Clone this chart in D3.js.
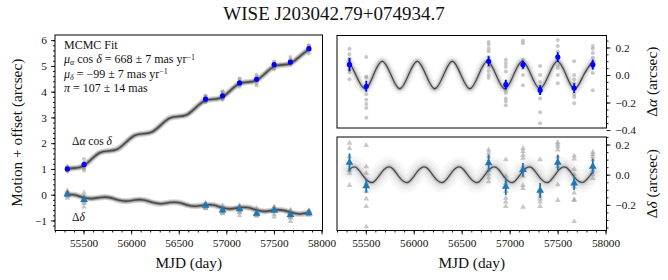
<!DOCTYPE html>
<html><head><meta charset="utf-8">
<script src="https://cdn.jsdelivr.net/npm/d3@7"></script>
<style>
body{margin:0;background:#fff}
svg{display:block}
text{font-family:"Liberation Serif","DejaVu Serif",serif;fill:#111}
</style>
</head><body><svg id="c" width="668" height="280"></svg>
<script>
// ---------------- DATA ----------------
const titleText = "WISE J203042.79+074934.7";
const epochs = [55330, 55505, 56781, 56960, 57139, 57318, 57502, 57673, 57867];

// left panel: motion + offset (arcsec)
const raTotal = [1.00, 1.17, 3.71, 3.84, 4.34, 4.48, 5.05, 5.15, 5.67];
const decTotal = [0.02, -0.20, -0.42, -0.60, -0.56, -0.73, -0.61, -0.78, -0.71];

// right panels: parallax residuals (arcsec)
const raRes = [0.075, -0.082, 0.10, -0.07, 0.075, -0.11, 0.13, -0.095, 0.075];
const raResErr = [0.048, 0.040, 0.037, 0.035, 0.030, 0.035, 0.036, 0.035, 0.035];
const decRes = [0.08, -0.075, 0.077, -0.079, 0.032, -0.105, 0.081, -0.057, 0.055];
const decResErr = [0.060, 0.045, 0.055, 0.055, 0.045, 0.050, 0.050, 0.045, 0.050];

// individual exposures (grey)
const raObs = [
  [0.19, 0.15, 0.12, 0.10, 0.07, 0.04, 0.02, -0.03],
  [0.13, -0.01, -0.02, -0.08, -0.14, -0.18, -0.21, -0.24, -0.31],
  [0.24, 0.22, 0.19, 0.17, 0.13, 0.06, 0.03, 0.0, -0.02],
  [0.11, 0.085, 0.06, 0.025, -0.05, -0.11, -0.13, -0.17, -0.19, -0.22],
  [0.25, 0.23, 0.11, 0.085, 0.05, 0.0, -0.075],
  [0.065, 0.0, -0.05, -0.08, -0.13, -0.17, -0.27, -0.35],
  [0.255, 0.21, 0.17, 0.14, 0.11, 0.07, 0.05, 0.0, -0.06],
  [0.10, 0.0, -0.03, -0.06, -0.10, -0.14, -0.16, -0.205],
  [0.21, 0.19, 0.16, 0.125, 0.09, 0.05, 0.015, -0.11]
];
const decObs = [
  [0.21, 0.175, 0.12, 0.08, 0.03, 0.01, -0.07],
  [0.195, 0.053, 0.01, -0.055, -0.11, -0.16, -0.21, -0.345],
  [0.165, 0.145, 0.12, 0.03, 0.005, -0.02, -0.045],
  [0.10, -0.01, -0.055, -0.11, -0.155, -0.18, -0.21],
  [0.175, 0.155, 0.13, 0.11, 0.055, -0.01, -0.07, -0.09, -0.215],
  [0.10, -0.12, -0.14, -0.16, -0.18, -0.21],
  [0.215, 0.20, 0.185, 0.165, 0.12, 0.055, -0.065, -0.17],
  [0.125, 0.105, 0.035, 0.0, -0.08, -0.12, -0.165, -0.17, -0.31],
  [0.15, 0.135, 0.12, 0.10, 0.055, 0.03, 0.0, -0.025]
];

// fitted model curve, read at quarter-year knots
const modelT = [55330, 55397, 55489, 55580, 55671, 55763, 55854, 55945, 56037, 56128,
  56219, 56311, 56402, 56493, 56585, 56676, 56767, 56859, 56950, 57041,
  57133, 57224, 57315, 57407, 57498, 57589, 57680, 57772, 57867];
const modelRa = [0.092, 0, -0.1, 0, 0.1, 0, -0.1, 0, 0.1, 0,
  -0.1, 0, 0.1, 0, -0.1, 0, 0.1, 0, -0.1, 0,
  0.1, 0, -0.1, 0, 0.1, 0, -0.1, 0, 0.1];
const modelDec = [0.035, 0.049, -0.02, -0.049, 0.02, 0.049, -0.02, -0.049, 0.02, 0.049,
  -0.02, -0.049, 0.02, 0.049, -0.02, -0.049, 0.02, 0.049, -0.02, -0.049,
  0.02, 0.049, -0.02, -0.049, 0.02, 0.049, -0.02, -0.049, 0.02];
const modelRaTotal = [1.0, 1.031, 1.098, 1.365, 1.632, 1.699, 1.766, 2.033, 2.300, 2.367,
  2.434, 2.701, 2.968, 3.035, 3.102, 3.369, 3.636, 3.703, 3.770, 4.037,
  4.304, 4.371, 4.438, 4.705, 4.972, 5.039, 5.106, 5.373, 5.645];
const modelDecTotal = [0.0, -0.004, -0.098, -0.152, -0.108, -0.103, -0.197, -0.251, -0.207, -0.203,
  -0.296, -0.350, -0.306, -0.302, -0.396, -0.449, -0.405, -0.401, -0.495, -0.549,
  -0.504, -0.500, -0.594, -0.648, -0.604, -0.600, -0.693, -0.747, -0.703];

const xTicks = [55500, 56000, 56500, 57000, 57500, 58000];
const xMinor = d3.range(55200, 58001, 100);
const leftYTicks = [-1, 0, 1, 2, 3, 4, 5, 6];
const leftYMinor = d3.range(-1.2, 6.2, 0.2);
const raTicks = [-0.4, -0.2, 0.0, 0.2];
const raMinor = d3.range(-0.35, 0.29, 0.05);
const decTicks = [-0.2, 0.0, 0.2];
const decMinor = d3.range(-0.35, 0.26, 0.05);

// ---------------- DRAW ----------------
const svg = d3.select("#c");
const BLUE = "#0000ff", TAB = "#1f77b4";

const L = {x0: 55, x1: 322.5, y0: 35, y1: 230.5};
const RT = {x0: 337, x1: 606.5, y0: 35.5, y1: 128};
const RB = {x0: 337, x1: 606.5, y0: 137, y1: 230.5};

const xL = d3.scaleLinear().domain([55200, 58010]).range([L.x0, L.x1]);
const yL = d3.scaleLinear().domain([-1.39, 6.2]).range([L.y1, L.y0]);
const xR = d3.scaleLinear().domain([55200, 58010]).range([RT.x0, RT.x1]);
const yRa = d3.scaleLinear().domain([-0.385, 0.287]).range([RT.y1, RT.y0]);
const yDe = d3.scaleLinear().domain([-0.37, 0.25]).range([RB.y1, RB.y0]);

const defs = svg.append("defs");
function clip(id, p) {
  defs.append("clipPath").attr("id", id).append("rect")
    .attr("x", p.x0).attr("y", p.y0).attr("width", p.x1 - p.x0).attr("height", p.y1 - p.y0);
  return svg.append("g").attr("clip-path", `url(#${id})`);
}
const gL = clip("cl", L), gRT = clip("crt", RT), gRB = clip("crb", RB);

const tri = d3.symbol().type(d3.symbolTriangle);

function greyPoints(g, x, y, obsArr, shift, shape) {
  obsArr.forEach((vals, i) => {
    vals.forEach(v => {
      const val = shift ? shift(i, v) : v;
      if (shape === "tri") {
        g.append("path").attr("d", tri.size(14)())
          .attr("transform", `translate(${x(epochs[i])},${y(val)})`)
          .attr("fill", "#9a9a9a").attr("fill-opacity", 0.55);
      } else {
        g.append("circle").attr("cx", x(epochs[i])).attr("cy", y(val)).attr("r", 2)
          .attr("fill", "#9a9a9a").attr("fill-opacity", 0.55);
      }
    });
  });
}

function model(g, x, y, vals, layers) {
  const line = d3.line().x((d, i) => x(modelT[i])).y(d => y(d)).curve(d3.curveNatural);
  layers.forEach(l => {
    g.append("path").attr("d", line(vals)).attr("fill", "none")
      .attr("stroke", l[0]).attr("stroke-width", l[1]).attr("stroke-opacity", l[2])
      .attr("stroke-linecap", "round").attr("stroke-linejoin", "round");
  });
}

function bluePoints(g, x, y, vals, errs, color, shape) {
  vals.forEach((v, i) => {
    const cx = x(epochs[i]);
    g.append("line").attr("x1", cx).attr("x2", cx)
      .attr("y1", y(v - errs[i])).attr("y2", y(v + errs[i]))
      .attr("stroke", color).attr("stroke-width", 1.8);
    if (shape === "tri") {
      g.append("path").attr("d", tri.size(26)()).attr("transform", `translate(${cx},${y(v)})`).attr("fill", color);
    } else {
      g.append("circle").attr("cx", cx).attr("cy", y(v)).attr("r", 2.6).attr("fill", color);
    }
  });
}

// left panel
greyPoints(gL, xL, yL, raObs, (i, v) => raTotal[i] + (v - raRes[i]), "circ");
greyPoints(gL, xL, yL, decObs, (i, v) => decTotal[i] + (v - decRes[i]), "tri");
const leftLayers = [["#888", 6, 0.35], ["#777", 3.6, 0.6], ["#444", 1.6, 0.9]];
model(gL, xL, yL, modelRaTotal, leftLayers);
model(gL, xL, yL, modelDecTotal, leftLayers);
bluePoints(gL, xL, yL, raTotal, raResErr, BLUE, "circ");
bluePoints(gL, xL, yL, decTotal, decResErr, TAB, "tri");

// right top
greyPoints(gRT, xR, yRa, raObs, null, "circ");
model(gRT, xR, yRa, modelRa, [["#888", 11, 0.08], ["#888", 7, 0.14], ["#777", 4, 0.3], ["#333", 1.3, 0.85]]);
bluePoints(gRT, xR, yRa, raRes, raResErr, BLUE, "circ");

// right bottom
greyPoints(gRB, xR, yDe, decObs, null, "tri");
model(gRB, xR, yDe, modelDec, [["#888", 20, 0.06], ["#888", 14, 0.08], ["#888", 8, 0.13], ["#777", 4, 0.25], ["#333", 1.3, 0.85]]);
bluePoints(gRB, xR, yDe, decRes, decResErr, TAB, "tri");

// axes
const TICKFS = 11.3;
function styleAxis(g, fs) {
  g.select(".domain").remove();
  g.selectAll(".tick line").attr("stroke", "#000").attr("stroke-width", 0.9);
  g.selectAll(".tick text").attr("font-size", fs).attr("fill", "#222")
    .style("font-family", '"Liberation Serif","DejaVu Serif",serif');
}
const fmtInt = d3.format("d");
const fmt1 = d3.format(".1f");

function addAxis(gen, tx, ty, fs) {
  const g = svg.append("g").attr("transform", `translate(${tx},${ty})`).call(gen);
  styleAxis(g, fs);
  return g;
}
// left x
addAxis(d3.axisBottom(xL).tickValues(xMinor).tickSize(2).tickFormat(""), 0, L.y1);
addAxis(d3.axisBottom(xL).tickValues(xTicks).tickSize(4).tickPadding(4).tickFormat(fmtInt), 0, L.y1, TICKFS);
// left y
addAxis(d3.axisLeft(yL).tickValues(leftYMinor).tickSize(2).tickFormat(""), L.x0, 0);
addAxis(d3.axisLeft(yL).tickValues(leftYTicks).tickSize(4).tickPadding(4).tickFormat(fmtInt), L.x0, 0, TICKFS);
// right x (bottom panel)
addAxis(d3.axisBottom(xR).tickValues(xMinor).tickSize(2).tickFormat(""), 0, RB.y1);
addAxis(d3.axisBottom(xR).tickValues(xTicks).tickSize(4).tickPadding(4).tickFormat(fmtInt), 0, RB.y1, TICKFS);
// right y
addAxis(d3.axisRight(yRa).tickValues(raMinor).tickSize(2).tickFormat(""), RT.x1, 0);
addAxis(d3.axisRight(yRa).tickValues(raTicks).tickSize(4).tickPadding(5).tickFormat(fmt1), RT.x1, 0, TICKFS);
addAxis(d3.axisRight(yDe).tickValues(decMinor).tickSize(2).tickFormat(""), RB.x1, 0);
addAxis(d3.axisRight(yDe).tickValues(decTicks).tickSize(4).tickPadding(5).tickFormat(fmt1), RB.x1, 0, TICKFS);

// frames
[L, RT, RB].forEach(p => {
  svg.append("rect").attr("x", p.x0).attr("y", p.y0).attr("width", p.x1 - p.x0).attr("height", p.y1 - p.y0)
    .attr("fill", "none").attr("stroke", "#000").attr("stroke-width", 1);
});

// texts
const LABFS = 15.3;
svg.append("text").attr("x", 334).attr("y", 20).attr("text-anchor", "middle")
  .attr("font-size", 19).text(titleText);
svg.append("text").attr("x", (L.x0 + L.x1) / 2).attr("y", 268).attr("text-anchor", "middle")
  .attr("font-size", LABFS).text("MJD (day)");
svg.append("text").attr("x", (RB.x0 + RB.x1) / 2).attr("y", 268).attr("text-anchor", "middle")
  .attr("font-size", LABFS).text("MJD (day)");
svg.append("text").attr("transform", `translate(22,${(L.y0 + L.y1) / 2}) rotate(-90)`)
  .attr("text-anchor", "middle").attr("font-size", LABFS).text("Motion + offset (arcsec)");

function rlabel(cy, sym) {
  const t = svg.append("text").attr("transform", `translate(657,${cy}) rotate(-90)`)
    .attr("text-anchor", "middle").attr("font-size", LABFS);
  t.append("tspan").text("Δ");
  t.append("tspan").attr("font-style", "italic").text(sym);
  t.append("tspan").text(" (arcsec)");
}
rlabel((RT.y0 + RT.y1) / 2, "α");
rlabel((RB.y0 + RB.y1) / 2, "δ");

// fit text
const fs = 12;
function fitLine(y, parts) {
  const t = svg.append("text").attr("x", 64).attr("y", y).attr("font-size", fs);
  parts.forEach(p => {
    const s = t.append("tspan").text(p.t);
    if (p.i) s.attr("font-style", "italic");
    if (p.dy) s.attr("dy", p.dy);
    if (p.fs) s.attr("font-size", p.fs);
  });
}
fitLine(48.5, [{t: "MCMC Fit"}]);
fitLine(63, [{t: "μ", i: 1}, {t: "α", i: 1, fs: 8, dy: 2}, {t: " cos ", dy: -2}, {t: "δ", i: 1}, {t: " = 668 ± 7 mas yr"}, {t: "−1", fs: 8, dy: -3.5}]);
fitLine(77.5, [{t: "μ", i: 1}, {t: "δ", i: 1, fs: 8, dy: 2}, {t: " = −99 ± 7 mas yr", dy: -2}, {t: "−1", fs: 8, dy: -3.5}]);
fitLine(92, [{t: "π", i: 1}, {t: " = 107 ± 14 mas"}]);

const l1 = svg.append("text").attr("x", 72).attr("y", 145).attr("font-size", 11.5);
l1.append("tspan").text("Δ"); l1.append("tspan").attr("font-style", "italic").text("α");
l1.append("tspan").text(" cos "); l1.append("tspan").attr("font-style", "italic").text("δ");
const l2 = svg.append("text").attr("x", 72).attr("y", 221).attr("font-size", 11.5);
l2.append("tspan").text("Δ"); l2.append("tspan").attr("font-style", "italic").text("δ");
</script>
</body></html>
